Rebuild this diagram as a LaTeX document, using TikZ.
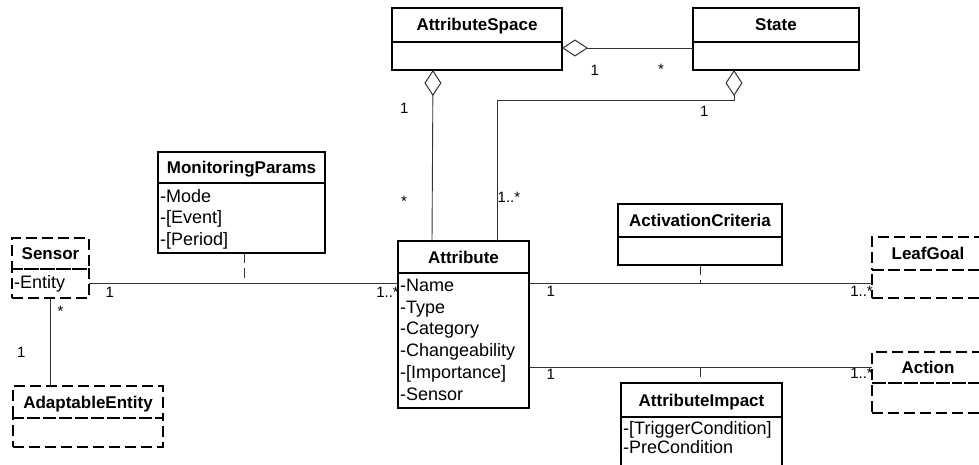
\documentclass[tikz,border=0pt]{standalone}
\usepackage{fontspec}
\setmainfont{Liberation Sans}
\usetikzlibrary{arrows.meta,calc}
\tikzset{
  box/.style={draw, line width=1.5pt, inner sep=0pt, outer sep=0pt, anchor=north west},
  dbox/.style={box, dash pattern=on 11pt off 5pt},
  hdr/.style={font=\fontsize{17pt}{20pt}\selectfont\bfseries, text height=12pt, text depth=0pt},
  item/.style={font=\fontsize{18pt}{21.7pt}\selectfont, inner sep=0pt, anchor=base west},
  lbl/.style={font=\fontsize{15pt}{18pt}\selectfont, inner sep=0pt, anchor=base west},
  conn/.style={draw, line width=0.9pt, black!80},
  assoc/.style={conn, dash pattern=on 10pt off 5pt},
  agg/.style={conn, {Diamond[open, length=26pt, width=17pt, line width=1pt]}-},
}
\begin{document}
\begin{tikzpicture}[x=1pt,y=-1pt]
\useasboundingbox (0,0) rectangle (979,465);

% classes
\node[box,hdr,minimum width=170pt,minimum height=34pt] (asH) at (392,8) {AttributeSpace};
\node[box,minimum width=170pt,minimum height=28pt] (asB) at (392,42) {};

\node[box,hdr,minimum width=166pt,minimum height=34pt] (stH) at (693,8) {State};
\node[box,minimum width=166pt,minimum height=28pt] (stB) at (693,42) {};

\node[box,hdr,minimum width=167pt,minimum height=31pt] (mpH) at (158,152) {MonitoringParams};
\node[box,minimum width=167pt,minimum height=70pt] (mpB) at (158,183) {};

\node[dbox,hdr,minimum width=77pt,minimum height=31pt] (seH) at (12,238) {Sensor};
\node[dbox,minimum width=77pt,minimum height=29pt] (seB) at (12,269) {};

\node[dbox,hdr,minimum width=150pt,minimum height=32pt] (aeH) at (13,386) {AdaptableEntity};
\node[dbox,minimum width=150pt,minimum height=29pt] (aeB) at (13,418) {};

\node[box,hdr,minimum width=131pt,minimum height=32pt] (atH) at (398,241) {Attribute};
\node[box,minimum width=131pt,minimum height=135pt] (atB) at (398,273) {};

\node[box,hdr,minimum width=164pt,minimum height=33pt] (acH) at (618,204) {ActivationCriteria};
\node[box,minimum width=164pt,minimum height=28pt] (acB) at (618,237) {};

\node[dbox,hdr,minimum width=112pt,minimum height=33pt] (lgH) at (872,237) {LeafGoal};
\node[dbox,minimum width=112pt,minimum height=28pt] (lgB) at (872,270) {};

\node[dbox,hdr,minimum width=112pt,minimum height=31pt] (anH) at (872,352) {Action};
\node[dbox,minimum width=112pt,minimum height=30pt] (anB) at (872,383) {};

\node[box,hdr,minimum width=161pt,minimum height=34pt] (aiH) at (621,383) {AttributeImpact};
\node[box,minimum width=161pt,minimum height=60pt] (aiB) at (621,417) {};

% attributes
\foreach \t [count=\i from 0] in {-Name,-Type,-Category,-Changeability,-[Importance],-Sensor}
  \node[item] (ati\i) at (400,291.5+21.7*\i) {\t};
\foreach \t [count=\i from 0] in {-Mode,-[Event],-[Period]}
  \node[item] (mpi\i) at (160,202+21.7*\i) {\t};
\node[item] (sei0) at (14,288.5) {-Entity};
\node[item] (aii0) at (623,434.5) {-[TriggerCondition]};
\node[item] (aii1) at (623,453) {-PreCondition};

% connectors
\draw[agg] ($(asB.north east)+(0,6)$) -- ($(stB.north west)+(0,6)$);
\draw[agg] ($(asB.south west)+(41,0)$) -- ($(atH.north west)+(34,0)$);
\draw[agg] ($(stB.south west)+(41,0)$) -- ++(0,30) -| ($(atH.north west)+(99,0)$);

\draw[conn] ($(seB.north east)+(0,14)$) -- ($(atB.north west)+(0,10)$);
\draw[conn] ($(atB.north east)+(0,10)$) -- ($(lgB.north west)+(0,13)$);
\draw[conn] ($(atB.north east)+(0,94)$) -- ($(anH.north west)+(0,15)$);
\draw[conn] ($(seB.south west)+(38,0)$) -- ($(aeH.north west)+(37,0)$);

\coordinate (mpJ) at (244,283);
\coordinate (acJ) at (700,283);
\coordinate (aiJ) at (700,367);
\draw[assoc] (mpB.south -| mpJ) -- (mpJ);
\draw[assoc] (acB.south -| acJ) -- (acJ);
\draw[assoc] (aiJ) -- (aiH.north -| aiJ);

% multiplicities
\node[lbl] (m1) at (590.5,76) {1};
\node[lbl] (m2) at (658,75) {*};
\node[lbl] (m3) at (400,113.5) {1};
\node[lbl] (m4) at (401,207) {*};
\node[lbl] (m5) at (700,116.5) {1};
\node[lbl] (m6) at (497.5,202) {1..*};
\node[lbl] (m7) at (105.5,297) {1};
\node[lbl,anchor=base east] (m8) at (399,297) {1..*};
\node[lbl] (m9) at (546.5,296) {1};
\node[lbl,anchor=base east] (m10) at (873,296) {1..*};
\node[lbl] (m11) at (546.5,379.5) {1};
\node[lbl,anchor=base east] (m12) at (873,378.5) {1..*};
\node[lbl] (m13) at (57.5,316) {*};
\node[lbl] (m14) at (17,357) {1};
\end{tikzpicture}
\end{document}
